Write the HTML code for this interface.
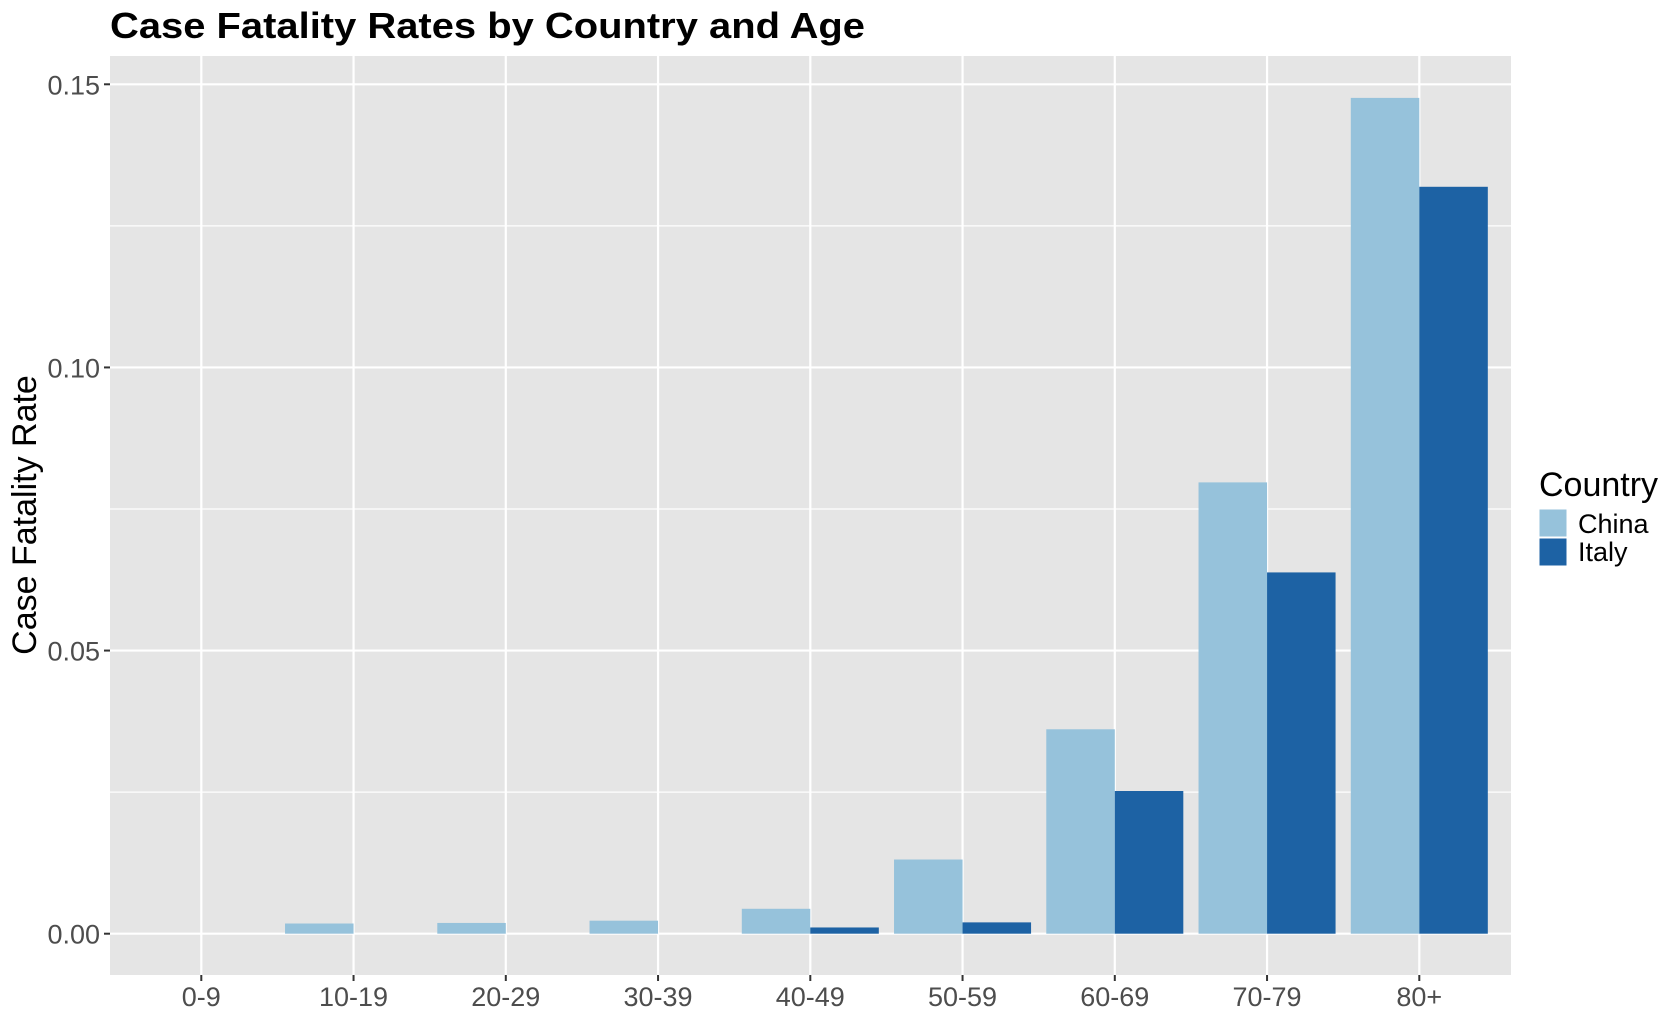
<!DOCTYPE html>
<html><head><meta charset="utf-8"><style>
html,body{margin:0;padding:0;background:#fff;}
svg{display:block;font-family:"Liberation Sans",Arial,sans-serif;}
</style></head><body>
<svg id="chart" width="1680" height="1020" viewBox="0 0 1680 1020">
<text x="110" y="38" font-size="36" font-weight="bold" fill="#000" textLength="755" lengthAdjust="spacingAndGlyphs">Case Fatality Rates by Country and Age</text>
<rect x="110" y="56" width="1401" height="919" fill="#e5e5e5"/>
<g id="grid"></g>
<g id="bars"></g>
<g id="axes"></g>
<text transform="translate(36,515) rotate(-90)" text-anchor="middle" font-size="34" fill="#000">Case Fatality Rate</text>
<g>
<text x="1539" y="496" font-size="34" fill="#000">Country</text>
<rect x="1539" y="509" width="28" height="28" fill="#96c2db" stroke="#fff" stroke-width="1"/>
<text x="1578" y="533" font-size="27" fill="#000">China</text>
<rect x="1539" y="538" width="28" height="28" fill="#1d62a4" stroke="#fff" stroke-width="1"/>
<text x="1578" y="561" font-size="27" fill="#000">Italy</text>
</g>
</svg>
<script>
const categories = ["0-9","10-19","20-29","30-39","40-49","50-59","60-69","70-79","80+"];
const chinaValues = [0, 0.0018, 0.0019, 0.0023, 0.0044, 0.0131, 0.0361, 0.0797, 0.1476];
const italyValues = [0, 0, 0, 0, 0.0011, 0.002, 0.0252, 0.0638, 0.1319];
const yTicks = [0, 0.05, 0.10, 0.15];
const yTickLabels = ["0.00","0.05","0.10","0.15"];
const yMinor = [0.025, 0.075, 0.125];

const NS="http://www.w3.org/2000/svg";
const panel={l:110,r:1511,t:56,b:975};
const x0=201.3, step=152.25;
function xScale(i){return x0+i*step;}
function yScale(v){return 933.7 - v*5662.7;}
function mk(tag,attrs,parent){const e=document.createElementNS(NS,tag);for(const k in attrs)e.setAttribute(k,attrs[k]);parent.appendChild(e);return e;}
const grid=document.getElementById('grid'),bars=document.getElementById('bars'),axes=document.getElementById('axes');
yMinor.forEach(v=>{const l=mk('line',{x1:panel.l,x2:panel.r,y1:yScale(v),y2:yScale(v),stroke:'#fff','stroke-width':1.2},grid);

});
yTicks.forEach((v,i)=>{const l=mk('line',{x1:panel.l,x2:panel.r,y1:yScale(v),y2:yScale(v),stroke:'#fff','stroke-width':2.2},grid);


const t=mk('line',{x1:104,x2:110,y1:yScale(v),y2:yScale(v),stroke:'#333','stroke-width':2},axes);


const tx=mk('text',{x:100,y:yScale(v)+10,'text-anchor':'end','font-size':27,fill:'#4d4d4d'},axes);
tx.textContent=yTickLabels[i];

});
categories.forEach((c,i)=>{const x=xScale(i);
const l=mk('line',{x1:x,x2:x,y1:panel.t,y2:panel.b,stroke:'#fff','stroke-width':2.2},grid);


const t=mk('line',{x1:x,x2:x,y1:panel.b,y2:panel.b+6,stroke:'#333','stroke-width':2},axes);


const tx=mk('text',{x:x,y:1006,'text-anchor':'middle','font-size':27,fill:'#4d4d4d'},axes);
tx.textContent=c;


const bw=step*0.45;
const vc=chinaValues[i], vi=italyValues[i];
if(vc>0){const r=mk('rect',{x:x-bw,y:yScale(vc),width:bw,height:yScale(0)-yScale(vc),fill:'#96c2db'},bars);

}
if(vi>0){const r=mk('rect',{x:x,y:yScale(vi),width:bw,height:yScale(0)-yScale(vi),fill:'#1d62a4'},bars);

}
});
</script>
</body></html>
